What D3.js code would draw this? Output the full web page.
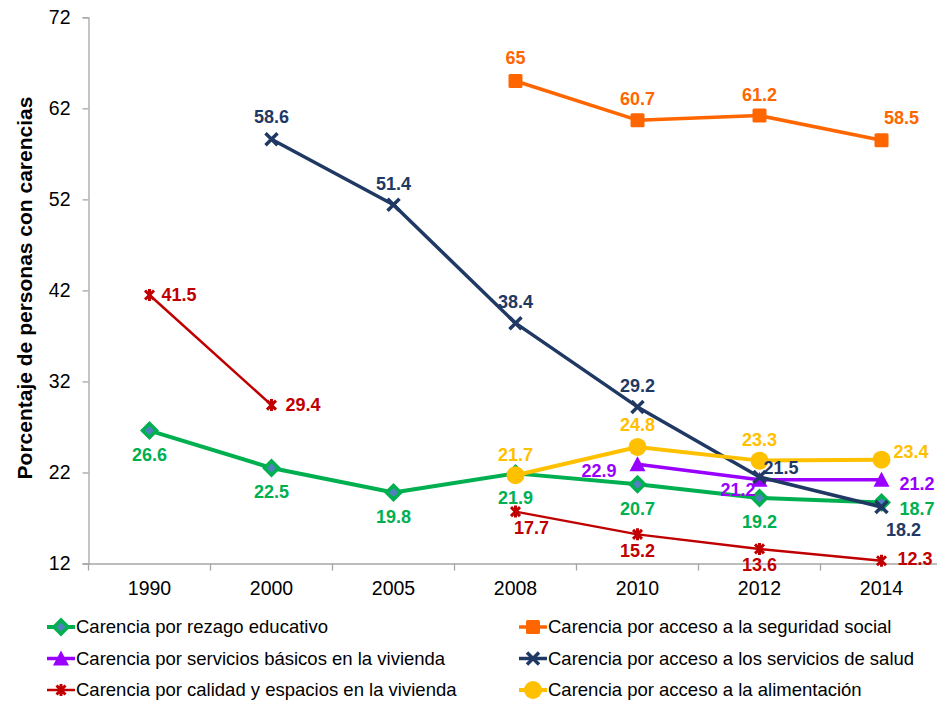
<!DOCTYPE html>
<html>
<head>
<meta charset="utf-8">
<script src="https://cdn.jsdelivr.net/npm/d3@7"></script>
<style>
  body { margin: 0; background: #fff; }
  svg { font-family: "Liberation Sans", Arial, sans-serif; }
</style>
</head>
<body>
<svg id="chart" width="937" height="703"></svg>
<script>
// data
let years = ['1990', '2000', '2005', '2008', '2010', '2012', '2014'];
let rezago = [26.6, 22.5, 19.8, 21.9, 20.7, 19.2, 18.7];
let seguridad = [null, null, null, 65, 60.7, 61.2, 58.5];
let servicios = [null, null, null, null, 22.9, 21.2, 21.2];
let salud = [null, 58.6, 51.4, 38.4, 29.2, 21.5, 18.2];
let calidad = [41.5, 29.4, null, 17.7, 15.2, 13.6, 12.3];
let alimentacion = [null, null, null, 21.7, 24.8, 23.3, 23.4];
let yTicks = [12, 22, 32, 42, 52, 62, 72];

let seriesNames = [
    'Carencia por rezago educativo',
    'Carencia por acceso a la seguridad social',
    'Carencia por servicios básicos en la vivienda',
    'Carencia por acceso a los servicios de salud',
    'Carencia por calidad y espacios en la vivienda',
    'Carencia por acceso a la alimentación'
];

// label placement per point: [dx, dy, anchor]
let A = [0, -21, 'middle'], B = [0, 24, 'middle'], R = [0, 16, 'middle'];
let series = [
    { values: rezago, color: '#00b050', width: 4, marker: 'diamond',
      labels: [B, B, B, B, B, B, [18, 6, 'start']] },
    { values: seguridad, color: '#ff6600', width: 3.5, marker: 'square',
      labels: [null, null, null, [0, -23, 'middle'], A, A, [20, -22, 'middle']] },
    { values: servicios, color: '#9900ff', width: 3.5, marker: 'triangle',
      labels: [null, null, null, null, [-21, 6, 'end'], [-4, 10, 'end'], [18, 4, 'start']] },
    { values: salud, color: '#1f3864', width: 3.5, marker: 'x',
      labels: [null, [0, -23, 'middle'], A, A, A, [4, -9, 'start'], [22, 23, 'middle']] },
    { values: calidad, color: '#c00000', width: 2.5, marker: 'star',
      labels: [[12, 0, 'start'], [14, 0, 'start'], null, [16, 16, 'middle'], R, R, [16, -2, 'start']] },
    { values: alimentacion, color: '#ffc000', width: 4, marker: 'circle',
      labels: [null, null, null, [0, -20, 'middle'], [0, -22, 'middle'], [0, -21, 'middle'], [12, -8, 'start']] }
];

let svg = d3.select('#chart');
let plotLeft = 88.5, plotRight = 942.5, plotTop = 17.3, plotBottom = 563.5;

let x = d3.scaleBand().domain(years).range([plotLeft, plotRight]);
let y = d3.scaleLinear().domain([12, 72]).range([plotBottom, plotTop]);
let cx = d => x(d) + x.bandwidth() / 2;

// axes
let yAxis = svg.append('g')
    .attr('transform', `translate(${plotLeft},0)`)
    .call(d3.axisLeft(y).tickValues(yTicks).tickSize(6).tickPadding(12));
let xAxis = svg.append('g')
    .attr('transform', `translate(0,${plotBottom})`)
    .call(d3.axisBottom(x).tickSize(0).tickPadding(18));
[yAxis, xAxis].forEach(g => {
    g.select('.domain').attr('stroke', '#a6a6a6').attr('stroke-width', 1.3);
    g.selectAll('.tick line').attr('stroke', '#a6a6a6').attr('stroke-width', 1.3);
    g.selectAll('text').style('font-size', '19.5px').attr('fill', '#000');
});
// ticks between categories
xAxis.selectAll('.bound')
    .data(years.concat(['end']))
    .enter().append('line')
    .attr('x1', (d, i) => plotLeft + i * x.step())
    .attr('x2', (d, i) => plotLeft + i * x.step())
    .attr('y1', 0).attr('y2', 7)
    .attr('stroke', '#a6a6a6').attr('stroke-width', 1.3);

svg.append('text')
    .attr('transform', 'translate(32,288) rotate(-90)')
    .attr('text-anchor', 'middle')
    .style('font-size', '21px').style('font-weight', 'bold')
    .text('Porcentaje de personas con carencias');

let drawMarker = (g, type, color, px, py) => {
    if (type === 'diamond') {
        g.append('path')
            .attr('d', `M${px},${py - 7}L${px + 7},${py}L${px},${py + 7}L${px - 7},${py}Z`)
            .attr('fill', '#4f81bd').attr('stroke', color).attr('stroke-width', 3.5);
    } else if (type === 'square') {
        g.append('rect').attr('x', px - 7).attr('y', py - 7).attr('width', 14).attr('height', 14)
            .attr('rx', 1.5).attr('fill', color);
    } else if (type === 'triangle') {
        g.append('path')
            .attr('d', `M${px},${py - 8}L${px + 8},${py + 7}L${px - 8},${py + 7}Z`)
            .attr('fill', color);
    } else if (type === 'x') {
        g.append('path')
            .attr('d', `M${px - 6},${py - 6}L${px + 6},${py + 6}M${px + 6},${py - 6}L${px - 6},${py + 6}`)
            .attr('stroke', color).attr('stroke-width', 3.5);
    } else if (type === 'star') {
        g.append('path')
            .attr('d', `M${px - 4.5},${py - 4.5}L${px + 4.5},${py + 4.5}M${px + 4.5},${py - 4.5}L${px - 4.5},${py + 4.5}M${px},${py - 6}L${px},${py + 6}`)
            .attr('stroke', color).attr('stroke-width', 3);
    } else if (type === 'circle') {
        g.append('circle').attr('cx', px).attr('cy', py).attr('r', 9).attr('fill', color);
    }
};

let line = d3.line()
    .defined(d => d.v != null)
    .x(d => cx(d.year))
    .y(d => y(d.v));

series.forEach(s => {
    let pts = years.map((yr, i) => ({ year: yr, v: s.values[i], lab: s.labels[i] }));
    let g = svg.append('g');
    g.append('path')
        .datum(pts)
        .attr('d', line)
        .attr('fill', 'none')
        .attr('stroke', s.color)
        .attr('stroke-width', s.width)
        .attr('stroke-linejoin', 'round');
    pts.filter(d => d.v != null).forEach(d => drawMarker(g, s.marker, s.color, cx(d.year), y(d.v)));
    s.pts = pts;
});

// data labels on top
series.forEach(s => {
    svg.append('g').selectAll('text')
        .data(s.pts.filter(d => d.v != null))
        .enter().append('text')
        .attr('x', d => cx(d.year) + d.lab[0])
        .attr('y', d => y(d.v) + d.lab[1])
        .attr('dy', '0.35em')
        .attr('text-anchor', d => d.lab[2])
        .attr('fill', s.color)
        .style('font-size', '18px').style('font-weight', 'bold')
        .text(d => d.v);
});

// legend
let legend = svg.append('g');
series.forEach((s, i) => {
    let lx = i % 2 === 0 ? 47 : 519;
    let ly = 627 + Math.floor(i / 2) * 31.5;
    let g = legend.append('g');
    g.append('line').attr('x1', lx).attr('x2', lx + 28).attr('y1', ly).attr('y2', ly)
        .attr('stroke', s.color).attr('stroke-width', s.width);
    drawMarker(g, s.marker, s.color, lx + 14, ly);
    g.append('text').attr('x', lx + 29).attr('y', ly).attr('dy', '0.35em')
        .style('font-size', '18.5px').text(seriesNames[i]);
});
</script>
</body>
</html>
